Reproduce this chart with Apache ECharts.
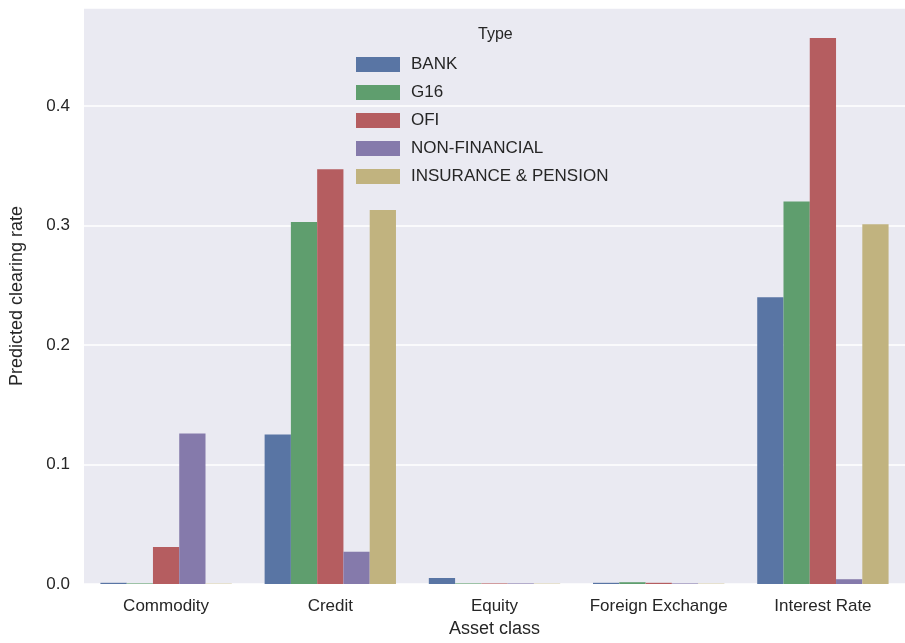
<!DOCTYPE html>
<html><head><meta charset="utf-8">
<script src="https://cdn.jsdelivr.net/npm/echarts@6/dist/echarts.min.js"></script>
<style>html,body{margin:0;padding:0;background:#fff}#c{width:905px;height:643px}</style>
</head><body><div id="c"></div>
<script>
var categories = ['Commodity', 'Credit', 'Equity', 'Foreign Exchange', 'Interest Rate'];
var types = ['BANK', 'G16', 'OFI', 'NON-FINANCIAL', 'INSURANCE & PENSION'];
var bank = [0.001, 0.125, 0.005, 0.001, 0.240];
var g16 = [0.0005, 0.303, 0.0005, 0.0015, 0.320];
var ofi = [0.031, 0.347, 0.0005, 0.001, 0.457];
var nonFin = [0.126, 0.027, 0.0005, 0.0005, 0.004];
var insurance = [0.0003, 0.313, 0.0003, 0.0003, 0.301];
var colors = ['#5975A4', '#5F9E6E', '#B55D60', '#857AAB', '#C1B37F'];
var seriesData = [bank, g16, ofi, nonFin, insurance];

var chart = echarts.init(document.getElementById('c'));
var font = 'Liberation Sans, Arial, sans-serif';
var series = [];
for (var i = 0; i < types.length; i++) {
    series.push({
        name: types[i], type: 'bar', data: seriesData[i],
        barGap: '0%', barCategoryGap: '20%',
        itemStyle: {color: colors[i]}
    });
}
chart.setOption({
    animation: false,
    textStyle: {fontFamily: font},
    grid: {left: 82, right: 0, top: 8, bottom: 58, backgroundColor: '#EAEAF2', show: true, borderWidth: 0},
    legend: {
        data: types, orient: 'vertical', left: 351, top: 51, itemGap: 11,
        itemWidth: 44, itemHeight: 15, icon: 'rect',
        textStyle: {fontSize: 17, color: '#262626', fontFamily: font, padding: [0, 0, 0, 6]}
    },
    graphic: [{type: 'text', left: 478, top: 27, style: {text: 'Type', fontSize: 16, fill: '#262626', fontFamily: font}}],
    xAxis: {
        type: 'category', data: categories,
        name: 'Asset class', nameLocation: 'middle', nameGap: 36,
        nameTextStyle: {fontSize: 18, color: '#262626'},
        axisLine: {show: false}, axisTick: {show: false},
        axisLabel: {interval: 0, fontSize: 17, color: '#262626', margin: 14}
    },
    yAxis: {
        type: 'value', min: 0, max: 0.482, interval: 0.1,
        name: 'Predicted clearing rate', nameLocation: 'middle', nameGap: 58,
        nameTextStyle: {fontSize: 18, color: '#262626'},
        axisLine: {show: false}, axisTick: {show: false},
        axisLabel: {fontSize: 17, color: '#262626', margin: 14, showMaxLabel: false,
            formatter: function (v) { return v.toFixed(1); }},
        splitLine: {lineStyle: {color: '#fff', width: 1.5}}
    },
    series: series
});
</script></body></html>
